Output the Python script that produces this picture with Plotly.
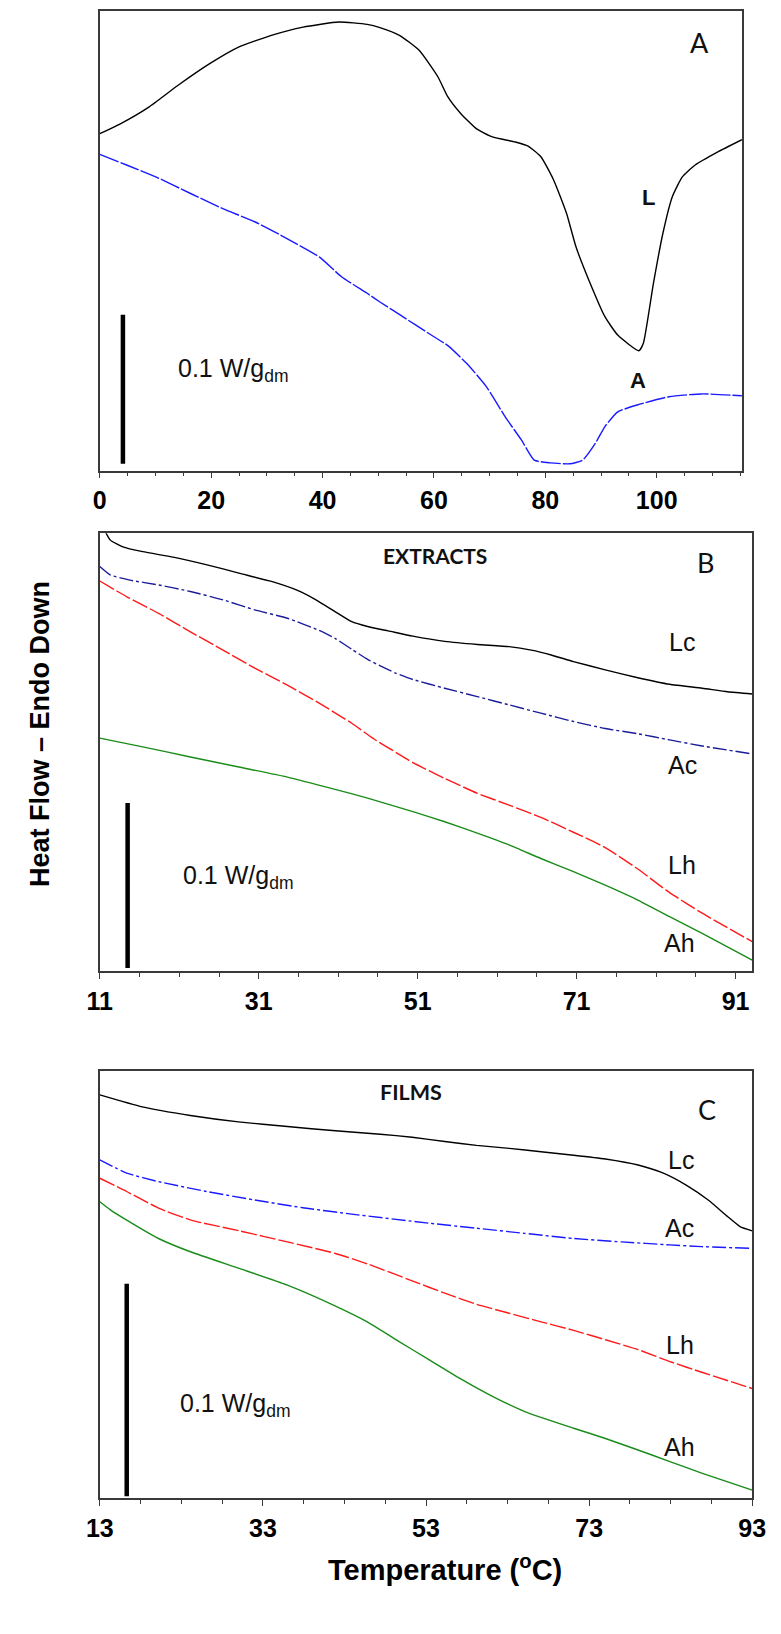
import plotly.graph_objects as go

# ---------------- Panel A (raw materials) ----------------
A_L_T = [0, 3.6, 8.8, 14, 19.8, 25, 30.8, 36.5, 42.9, 48, 50.3, 53.8, 57.3, 60.7, 62.5, 64.8,
         67.6, 70.5, 74.6, 76.9, 79.2, 81.5, 83.8, 85.5, 87.8, 90.7, 93.0, 96.8, 97.6, 99.4,
         101.1, 102.8, 104.6, 106.9, 110.9, 115.3]
A_L_HF = [73.3, 75.4, 79.1, 83.8, 88.6, 92.2, 94.7, 96.5, 97.6, 97.1, 96.4, 94.7, 91.5, 85.7, 81.3, 77.7,
          74.4, 72.6, 71.5, 70.6, 68.3, 63.2, 56.0, 48.7, 41.5, 33.5, 29.5, 26.1, 27.7, 40.7,
          51.6, 59.6, 63.9, 66.5, 69.3, 72.0]
A_A_T = [0, 4.8, 10.6, 16.3, 22.1, 27.9, 33.6, 39.4, 43.4, 48, 50.3, 54.4, 59, 62.5, 65.9, 69.4,
         72.8, 75.7, 78, 80.9, 84.4, 86.7, 89, 90.7, 93, 96.5, 102.2, 108, 115.3]
A_A_HF = [68.8, 66.5, 63.6, 60.3, 57.0, 54.1, 50.5, 46.5, 42.2, 38.6, 36.7, 33.5, 29.9, 27.2, 23.3, 18.3,
          11.7, 6.7, 2.3, 1.7, 1.5, 2.3, 6.0, 9.6, 12.8, 14.3, 16.1, 16.7, 16.3]
A_SCALE_T = [4.15, 4.15]
A_SCALE_HF = [1.5, 33.9]          # 0.1 W/g_dm
A_XTICKS = [0, 20, 40, 60, 80, 100]

# ---------------- Panel B (extracts) ----------------
B_LC_T = [11.0, 12.3, 13.9, 16.4, 20.4, 24.5, 28.5, 32.6, 35.8, 38.2, 40.6, 42.7, 44.7, 47.3, 50.4,
          54.4, 58.5, 62.5, 65.3, 67.8, 70.6, 74.6, 78.7, 82.7, 86.8, 90.0, 93.1]
B_LC_HF = [103.0, 98.5, 96.9, 95.8, 94.5, 92.8, 90.9, 89.0, 87.0, 84.8, 82.1, 79.8, 78.7, 77.7, 76.5,
           75.3, 74.6, 74.1, 73.3, 72.2, 70.7, 68.8, 67.0, 65.5, 64.6, 63.8, 63.3]
B_AC_T = [11, 12.3, 14.8, 18.4, 22.4, 26.5, 30.5, 34.6, 38.6, 40.6, 42.7, 44.7, 46.3, 48.3, 50.4,
          54.4, 58.5, 62.5, 66.5, 70.6, 74.6, 78.7, 82.7, 86.8, 93.1]
B_AC_HF = [92.4, 90.5, 89.3, 88.2, 86.7, 84.8, 82.5, 80.6, 77.8, 76.0, 73.5, 71.2, 69.7, 68.0, 66.6,
           64.6, 62.7, 60.8, 58.9, 57.0, 55.4, 54.2, 52.8, 51.4, 49.6]
B_LH_T = [11, 14.4, 18.4, 22.4, 26.5, 30.5, 34.6, 38.6, 42.7, 45.5, 48.3, 50.4, 54.4, 58.5, 62.5,
          66.5, 70.6, 74.6, 78.7, 82.7, 86.8, 93.1]
B_LH_HF = [89.1, 85.5, 81.7, 77.5, 73.3, 69.2, 65.3, 61.2, 56.6, 53.0, 49.9, 47.6, 44.0, 40.6, 37.9,
           35.1, 31.7, 28.2, 23.3, 17.9, 13.2, 6.7]
B_AH_T = [11, 16.4, 22.4, 28.5, 34.6, 40.6, 44.7, 50.4, 54.4, 58.5, 62.5, 66.5, 70.6, 74.6,
          78.7, 82.7, 86.8, 93.1]
B_AH_HF = [53.2, 51.2, 48.9, 46.6, 44.3, 41.5, 39.5, 36.4, 34.1, 31.5, 28.8, 25.7, 22.7, 19.6,
           16.2, 12.4, 8.6, 2.5]
B_SCALE_T = [14.5, 14.5]
B_SCALE_HF = [0.7, 38.4]          # 0.1 W/g_dm
B_XTICKS = [11, 31, 51, 71, 91]

# ---------------- Panel C (films) ----------------
C_LC_T = [13, 18.2, 24.1, 30.0, 36.0, 41.9, 47.4, 51.3, 55.3, 59.2, 63.2, 67.1, 71.1, 75.0, 79.0,
          82.1, 84.9, 87.6, 90.0, 91.5, 93]
C_LC_HF = [94.4, 91.6, 89.6, 88.1, 87.0, 86.0, 85.2, 84.5, 83.5, 82.6, 81.9, 81.1, 80.3, 79.4, 78.0,
           76.1, 73.3, 69.8, 65.9, 63.6, 62.6]
C_AC_T = [13, 16.3, 20.2, 26.1, 32.0, 37.9, 43.9, 53.3, 59.2, 65.1, 71.1, 77.0, 82.9, 86.8, 93]
C_AC_HF = [79.2, 76.1, 74.1, 71.8, 69.8, 68.0, 66.5, 64.4, 63.2, 62.0, 60.8, 60.0, 59.3, 58.9, 58.5]
C_LH_T = [13, 16.3, 20.2, 24.2, 30.1, 36.0, 41.9, 45.9, 51.3, 55.3, 59.2, 63.2, 67.1, 71.1,
          75.0, 79.0, 82.9, 86.8, 93]
C_LH_HF = [74.9, 71.8, 67.9, 65.1, 62.6, 60.0, 57.3, 54.8, 50.9, 48.0, 45.4, 43.3, 41.3, 39.3,
           37.1, 34.8, 32.0, 29.5, 25.7]
C_AH_T = [13, 14.3, 16.3, 20.2, 24.1, 30.1, 36.0, 41.9, 45.8, 49.6, 53.3, 57.2, 61.2, 65.1,
          71.1, 75.0, 79.0, 82.9, 86.8, 93]
C_AH_HF = [69.4, 67.5, 65.1, 60.8, 57.7, 53.8, 49.9, 45.0, 41.3, 36.8, 32.5, 28.0, 23.8, 20.3,
           16.4, 14.0, 11.3, 8.6, 5.9, 1.9]
C_SCALE_T = [16.3, 16.3]
C_SCALE_HF = [0.5, 50.2]          # 0.1 W/g_dm
C_XTICKS = [13, 33, 53, 73, 93]

ARIAL = "Liberation Sans, Arial, sans-serif"
CALIBRI = "Lato, Open Sans, sans-serif"
FRAME = "#3a3a3a"

fig = go.Figure()

def add(x, y, ax, color, dash="solid", width=1.4):
    fig.add_trace(go.Scatter(x=x, y=y, mode="lines", xaxis="x" + ax, yaxis="y" + ax,
                             line=dict(color=color, width=width, dash=dash, shape="spline", smoothing=0.5),
                             showlegend=False, hoverinfo="skip"))

def bar(x, y, ax):
    fig.add_trace(go.Scatter(x=x, y=y, mode="lines", xaxis="x" + ax, yaxis="y" + ax,
                             line=dict(color="black", width=4.5), showlegend=False, hoverinfo="skip"))

# Panel A
add(A_L_T, A_L_HF, "", "black")
add(A_A_T, A_A_HF, "", "#1a1aff", dash="20px,2px")
bar(A_SCALE_T, A_SCALE_HF, "")
# Panel B
add(B_LC_T, B_LC_HF, "2", "black")
add(B_AC_T, B_AC_HF, "2", "#1c1c9a", dash="14px,3px,3px,3px")
add(B_LH_T, B_LH_HF, "2", "#ff1a1a", dash="16px,3px")
add(B_AH_T, B_AH_HF, "2", "#1a8c1a")
bar(B_SCALE_T, B_SCALE_HF, "2")
# Panel C
add(C_LC_T, C_LC_HF, "3", "black")
add(C_AC_T, C_AC_HF, "3", "#1a1aff", dash="14px,3px,3px,3px")
add(C_LH_T, C_LH_HF, "3", "#ff1a1a", dash="16px,3px")
add(C_AH_T, C_AH_HF, "3", "#1a8c1a")
bar(C_SCALE_T, C_SCALE_HF, "3")

def xaxis(rng, ticks, dom_x, anchor):
    return dict(range=rng, domain=dom_x, anchor=anchor, tickvals=ticks, ticks="outside",
                ticklen=6, tickwidth=1.4, tickcolor=FRAME,
                minor=dict(ticks="outside", ticklen=4, tickwidth=1.2, tickcolor=FRAME,
                           tick0=ticks[0], dtick=5),
                showline=True, linecolor=FRAME, linewidth=1.5, mirror=True,
                showgrid=False, zeroline=False, ticklabelstandoff=1,
                tickfont=dict(family=ARIAL, size=25, color="black", weight="bold"))

def yaxis(dom_y, anchor):
    return dict(range=[0, 100], domain=dom_y, anchor=anchor, showticklabels=False, ticks="",
                showline=True, linecolor=FRAME, linewidth=1.5, mirror=True,
                showgrid=False, zeroline=False)

W, H = 781, 1634
def px(x): return x / W
def py(y): return 1 - y / H

fig.update_layout(
    width=W, height=H, margin=dict(l=0, r=0, t=0, b=0),
    plot_bgcolor="white", paper_bgcolor="white",
    xaxis=xaxis([0, 115.3], A_XTICKS, [px(89), px(755)], "y"),
    yaxis=yaxis([py(470.7), py(11)], "x"),
    xaxis2=xaxis([11, 93.1], B_XTICKS, [px(89), px(765.7)], "y2"),
    yaxis2=yaxis([py(971), py(533.3)], "x2"),
    xaxis3=xaxis([13, 93], C_XTICKS, [px(89), px(765.7)], "y3"),
    yaxis3=yaxis([py(1498.3), py(1071)], "x3"),
)

def txt(x, y, s, ax, size=25, family=ARIAL, weight="normal", xanchor="center"):
    fig.add_annotation(x=x, y=y, xref="x" + ax, yref="y" + ax, text=s, showarrow=False,
                       xanchor=xanchor, yanchor="middle",
                       font=dict(family=family, size=size, color="#111", weight=weight))

SCALE_LABEL = "0.1 W/g<sub>dm</sub>"
# Panel A texts
txt(107.6, 93.2, "A", "", size=27, family=CALIBRI)
txt(98.6, 59.5, "L", "", size=22, weight="bold")
txt(96.7, 19.7, "A", "", size=22, weight="bold")
txt(13.7, 21.9, SCALE_LABEL, "", size=25, xanchor="left")
# Panel B texts
txt(53.2, 95.0, "EXTRACTS", "2", size=21, family=CALIBRI, weight="bold")
txt(87.2, 93.4, "B", "2", size=27, family=CALIBRI)
txt(84.3, 75.2, "Lc", "2")
txt(84.3, 47.1, "Ac", "2")
txt(84.3, 24.2, "Lh", "2")
txt(83.9, 6.4, "Ah", "2")
txt(21.2, 21.5, SCALE_LABEL, "2", xanchor="left")
# Panel C texts
txt(51.2, 95.1, "FILMS", "3", size=21.5, family=CALIBRI, weight="bold")
txt(87.4, 91.1, "C", "3", size=27, family=CALIBRI)
txt(84.3, 79.2, "Lc", "3")
txt(84.1, 63.3, "Ac", "3")
txt(84.1, 35.9, "Lh", "3")
txt(84.1, 12.0, "Ah", "3")
txt(22.6, 21.8, SCALE_LABEL, "3", xanchor="left")

# Global axis titles
fig.add_annotation(x=px(27), y=py(734), xref="paper", yref="paper", text="Heat Flow – Endo Down",
                   showarrow=False, textangle=-90, xanchor="center", yanchor="middle",
                   font=dict(family=ARIAL, size=27, color="black", weight="bold"))
fig.add_annotation(x=px(447), y=py(1568), xref="paper", yref="paper",
                   text="Temperature (<sup>o</sup>C)", showarrow=False,
                   xanchor="center", yanchor="middle",
                   font=dict(family=ARIAL, size=29, color="black", weight="bold"))

fig.write_html("out.html")
